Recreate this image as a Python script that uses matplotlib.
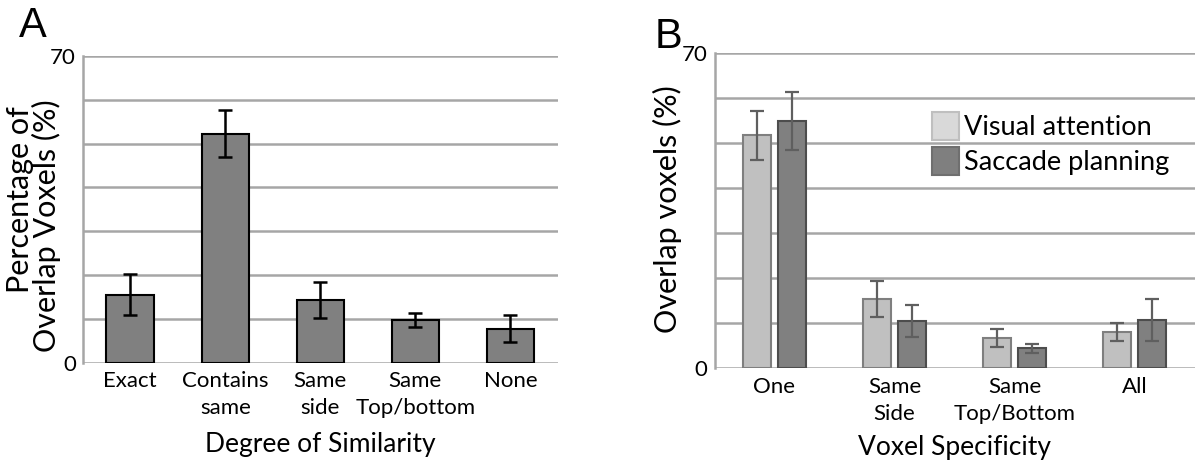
import matplotlib
matplotlib.use("Agg")
import matplotlib.pyplot as plt
import numpy as np

# Panel A data
a_categories = ["Exact", "Contains\nsame", "Same\nside", "Same\nTop/bottom", "None"]
a_values = [15.5, 52.3, 14.3, 9.8, 7.8]
a_errors = [4.7, 5.4, 4.2, 1.65, 3.0]

# Panel B data
b_categories = ["One", "Same\nSide", "Same\nTop/Bottom", "All"]
b_series = ["Visual attention", "Saccade planning"]
b_visual = [51.7, 15.3, 6.65, 8.1]
b_saccade = [54.9, 10.5, 4.4, 10.7]
b_visual_err = [5.4, 4.0, 2.0, 1.95]
b_saccade_err = [6.4, 3.6, 1.0, 4.7]

y_ticks = [0, 70]
grid_vals = [0, 10, 20, 30, 40, 50, 60, 70]

plt.rcParams['font.family'] = ['Lato', 'DejaVu Sans']

W, H = 1196, 468
fig = plt.figure(figsize=(W / 100, H / 100), dpi=100)

grid_color = "#a6a6a6"

def px(x, y):
    return x / W, 1 - y / H

def style_axes(ax, nlab):
    ax.set_ylim(0, 70)
    ax.set_xlim(-0.5, nlab - 0.5)
    for s in ["top", "right", "bottom"]:
        ax.spines[s].set_visible(False)
    ax.spines["left"].set_color(grid_color)
    ax.spines["left"].set_linewidth(1.8)
    for g in grid_vals:
        ax.axhline(g, color=grid_color, lw=1.8, zorder=0)
    ax.set_yticks(y_ticks)
    ax.set_yticklabels([str(t) for t in y_ticks], fontsize=16)
    ax.tick_params(axis="y", length=0, pad=5)
    ax.tick_params(axis="x", length=0, pad=6, labelsize=16)

# Panel A
axA = fig.add_axes([82.7 / W, (H - 362.7) / H, 475.3 / W, 306.7 / H])
xA = np.arange(len(a_categories))
axA.bar(xA, a_values, width=0.5, color="#808080", edgecolor="black", linewidth=1.5, zorder=2)
axA.errorbar(xA, a_values, yerr=a_errors, fmt="none", ecolor="black", elinewidth=1.8,
             capsize=5, capthick=1.8, zorder=3)
style_axes(axA, len(a_categories))
axA.set_xticks(xA)
axA.set_xticklabels(a_categories, fontsize=16, linespacing=1.45, va="top")
axA.set_xlabel("Degree of Similarity", fontsize=19, labelpad=10)
fig.text(*px(20, 200), "Percentage of", rotation=90, fontsize=22, ha="center", va="center")
fig.text(*px(46, 226), "Overlap Voxels (%)", rotation=90, fontsize=22, ha="center", va="center")
fig.text(*px(19, 37), "A", fontsize=30, family="Liberation Sans", va="baseline")

# Panel B
axB = fig.add_axes([714.5 / W, (H - 368.3) / H, 480 / W, 315.6 / H])
xB = np.arange(len(b_categories))
bw = 0.233
off = 0.146
axB.bar(xB - off, b_visual, width=bw, color="#c0c0c0", edgecolor="#7f7f7f", linewidth=1.5,
        zorder=2, label=b_series[0])
axB.bar(xB + off, b_saccade, width=bw, color="#808080", edgecolor="#4d4d4d", linewidth=1.5,
        zorder=2, label=b_series[1])
axB.errorbar(xB - off, b_visual, yerr=b_visual_err, fmt="none", ecolor="#5f5f5f",
             elinewidth=1.6, capsize=5, capthick=1.6, zorder=3)
axB.errorbar(xB + off, b_saccade, yerr=b_saccade_err, fmt="none", ecolor="#5f5f5f",
             elinewidth=1.6, capsize=5, capthick=1.6, zorder=3)
style_axes(axB, len(b_categories))
axB.set_xticks(xB)
axB.set_xticklabels(b_categories, fontsize=16, linespacing=1.45, va="top")
axB.set_xlabel("Voxel Specificity", fontsize=19, labelpad=8)
fig.text(*px(667.5, 209), "Overlap voxels (%)", rotation=90, fontsize=22, ha="center", va="center")
leg = axB.legend(loc="upper left", bbox_to_anchor=(0.4296, 0.845), frameon=False, fontsize=19.5,
                 handlelength=1.0, handleheight=1.2, handletextpad=0.2, labelspacing=0.25,
                 borderaxespad=0)
hs = leg.legend_handles
hs[0].set_facecolor("#d9d9d9"); hs[0].set_edgecolor("#bfbfbf")
hs[1].set_facecolor("#7f7f7f"); hs[1].set_edgecolor("#6f6f6f")
fig.text(*px(655, 48), "B", fontsize=30, family="Liberation Sans", va="baseline")

fig.savefig("out.png", dpi=100)
